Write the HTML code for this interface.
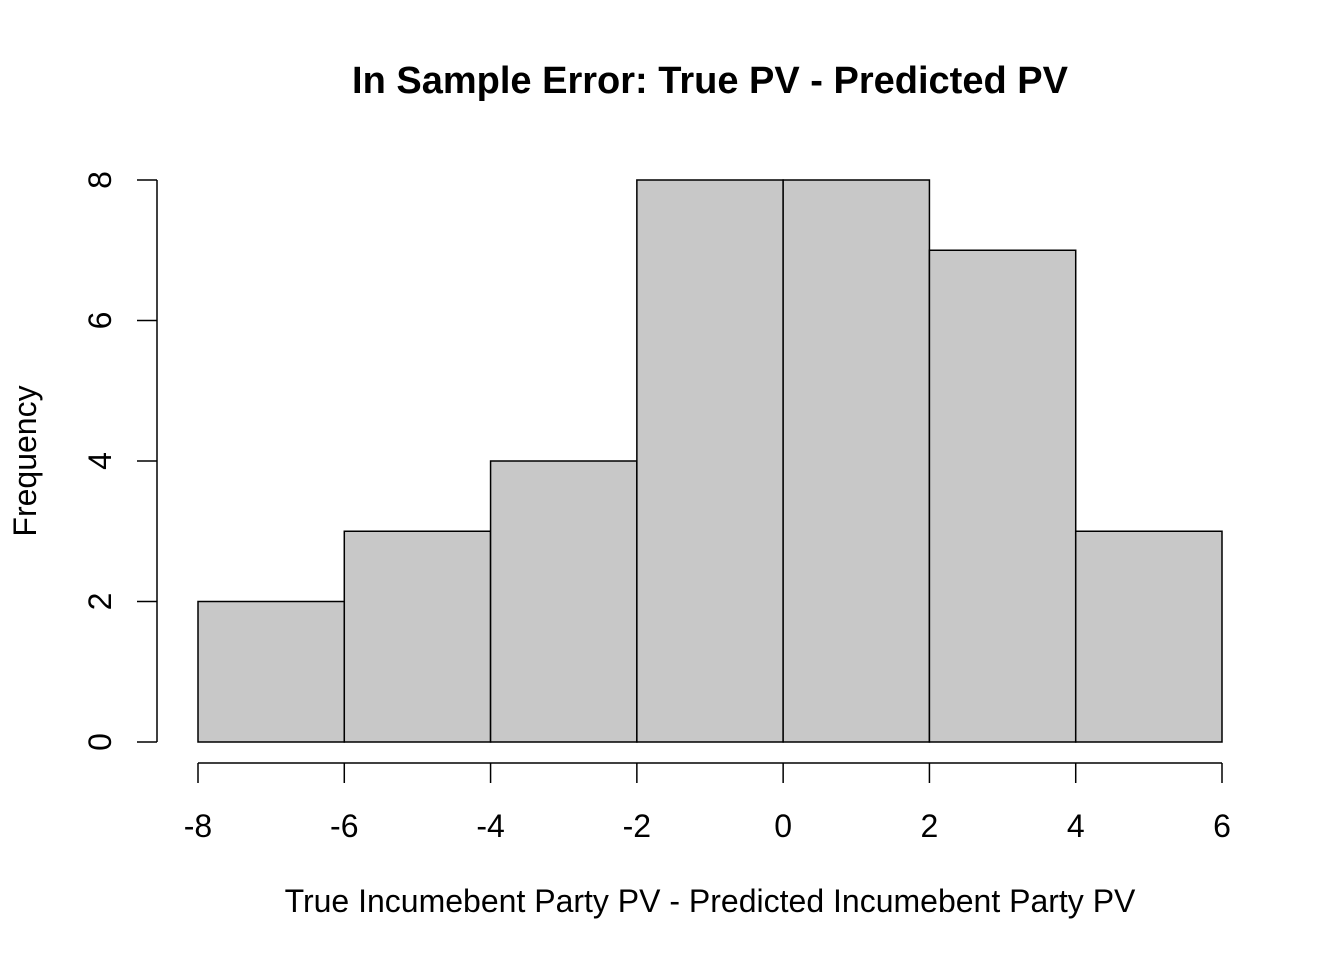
<!DOCTYPE html>
<html><head><meta charset="utf-8"><style>
html,body{margin:0;padding:0;background:#fff;}
svg{display:block;font-family:"Liberation Sans",Arial,sans-serif;}
</style></head><body>
<svg id="chart" width="1344" height="960">
<text x="710" y="93" text-anchor="middle" font-size="38" font-weight="bold">In Sample Error: True PV - Predicted PV</text>
<text x="710" y="912" text-anchor="middle" font-size="32">True Incumebent Party PV - Predicted Incumebent Party PV</text>
<text transform="translate(36,461) rotate(-90)" text-anchor="middle" font-size="32">Frequency</text>
<g id="bars"></g><g id="xaxis"></g><g id="yaxis"></g>
</svg>
<script>
const breaks=[-8,-6,-4,-2,0,2,4,6];
const counts=[2,3,4,8,8,7,3];
const xTicks=[-8,-6,-4,-2,0,2,4,6];
const yTicks=[0,2,4,6,8];
const NS="http://www.w3.org/2000/svg";
function xs(v){return 198+(v+8)*(1222-198)/14;}
function ys(v){return 742-v*(742-180)/8;}
function mk(t,a,p){const e=document.createElementNS(NS,t);for(const k in a)e.setAttribute(k,a[k]);p.appendChild(e);return e;}
const bars=document.getElementById('bars');
counts.forEach((c,i)=>{
 const r=mk('rect',{x:xs(breaks[i]),y:ys(c),width:xs(breaks[i+1])-xs(breaks[i]),height:ys(0)-ys(c),fill:'#c8c8c8',stroke:'#000','stroke-width':1.5},bars);
 
 
});
const xa=document.getElementById('xaxis');
const xl=mk('line',{x1:xs(xTicks[0]),x2:xs(xTicks[xTicks.length-1]),y1:763,y2:763,stroke:'#000','stroke-width':1.5},xa);


xTicks.forEach(v=>{
 mk('line',{x1:xs(v),x2:xs(v),y1:763,y2:783,stroke:'#000','stroke-width':1.5},xa);
 const t=mk('text',{x:xs(v),y:837,'text-anchor':'middle','font-size':32},xa);
 t.textContent=v;
 
 
});
const ya=document.getElementById('yaxis');
const yl=mk('line',{x1:157,x2:157,y1:ys(yTicks[0]),y2:ys(yTicks[yTicks.length-1]),stroke:'#000','stroke-width':1.5},ya);


yTicks.forEach(v=>{
 mk('line',{x1:137,x2:157,y1:ys(v),y2:ys(v),stroke:'#000','stroke-width':1.5},ya);
 const t=mk('text',{transform:'translate(111,'+ys(v)+') rotate(-90)','text-anchor':'middle','font-size':32},ya);
 t.textContent=v;
 
 
});
</script>
</body></html>
